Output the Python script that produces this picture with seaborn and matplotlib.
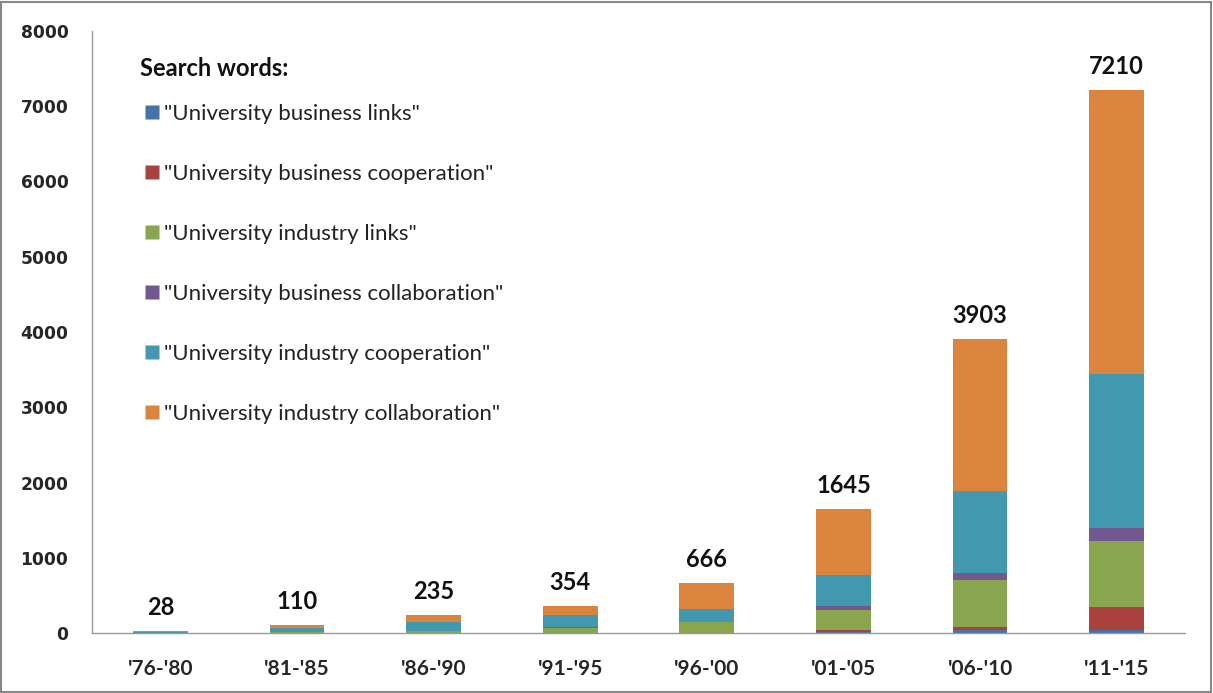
import matplotlib
matplotlib.use("Agg")
import matplotlib.pyplot as plt
from matplotlib.patches import Rectangle
from matplotlib.lines import Line2D
import seaborn as sns
import pandas as pd
import numpy as np

periods = ["'76-'80", "'81-'85", "'86-'90", "'91-'95", "'96-'00", "'01-'05", "'06-'10", "'11-'15"]
series_names = ['"University business links"', '"University business cooperation"',
                '"University industry links"', '"University business collaboration"',
                '"University industry cooperation"', '"University industry collaboration"']
biz_links = [0, 1, 1, 2, 3, 18, 44, 44]
biz_coop = [0, 1, 1, 2, 3, 18, 39, 304]
ind_links = [2, 5, 27, 58, 137, 267, 624, 873]
biz_collab = [1, 2, 3, 23, 5, 54, 94, 177]
ind_coop = [13, 63, 115, 151, 170, 419, 1083, 2044]
ind_collab = [12, 38, 88, 118, 348, 869, 2019, 3768]
totals = [28, 110, 235, 354, 666, 1645, 3903, 7210]
colors = ["#4572A7", "#A9413F", "#89A54E", "#71588F", "#4198AF", "#DB843D"]

sns.set_theme(style="white")
plt.rcParams['font.family'] = ['Lato', 'DejaVu Sans']

values = [biz_links, biz_coop, ind_links, biz_collab, ind_coop, ind_collab]
df = pd.DataFrame({name: v for name, v in zip(series_names, values)}, index=periods)
cum = df.cumsum(axis=1)

fig = plt.figure(figsize=(12.13, 6.93), dpi=100)
ax = fig.add_axes([92/1213, 1-633/693, (1185-92)/1213, (633-31)/693])

for i in range(len(series_names) - 1, -1, -1):
    name = series_names[i]
    d = pd.DataFrame({"period": periods, "value": cum[name].values})
    sns.barplot(data=d, x="period", y="value", color=colors[i], width=0.4,
                saturation=1, ax=ax, order=periods, linewidth=0, edgecolor="none")

for xi, t in enumerate(totals):
    ax.text(xi, t + 160, str(t), ha="center", va="bottom", fontsize=17,
            fontweight="bold", color="#111111", family=['Lato', 'DejaVu Sans'])

ax.set_ylim(0, 8000)
ax.set_xlim(-0.5, len(periods) - 0.5)
ax.set_yticks(np.arange(0, 8001, 1000))
ax.set_yticklabels([str(v) for v in range(0, 8001, 1000)], fontsize=12.3,
                   fontweight="bold", family="DejaVu Sans")
ax.set_xticks(range(len(periods)))
ax.set_xticklabels(periods, fontsize=15, fontweight="bold")
ax.set_xticks(np.arange(-0.5, len(periods), 1), minor=True)
ax.tick_params(axis="x", which="major", length=0, pad=19)
ax.tick_params(axis="x", which="minor", length=8, width=1, color="#999999", direction="out")
ax.tick_params(axis="y", which="major", length=7, width=1, color="#999999", direction="out", pad=10)
ax.set_xlabel("")
ax.set_ylabel("")
for s in ["top", "right"]:
    ax.spines[s].set_visible(False)
for s in ["left", "bottom"]:
    ax.spines[s].set_color("#999999")
    ax.spines[s].set_linewidth(1)

handles = [Line2D([0], [0], marker="s", linestyle="none", markersize=10,
                  markerfacecolor=c, markeredgecolor="none") for c in colors]
leg = ax.legend(handles, series_names, title="Search words:", loc="upper left",
                bbox_to_anchor=(0.0355, 0.971), frameon=False, fontsize=16,
                labelspacing=1.8, handletextpad=0.0, handlelength=1.1,
                borderaxespad=0)
leg.get_title().set_fontsize(17)
leg.get_title().set_fontweight("bold")
leg._legend_box.align = "left"
leg._legend_box.sep = 17
leg.get_title().set_color("#111111")
for t in leg.get_texts():
    t.set_color("#222222")

fig.patches.append(Rectangle((1/1213, 1/693), 1 - 3/1213, 1 - 3/693, transform=fig.transFigure,
                             fill=False, edgecolor="#888888", linewidth=1.5))

fig.savefig("out.png", dpi=100)
